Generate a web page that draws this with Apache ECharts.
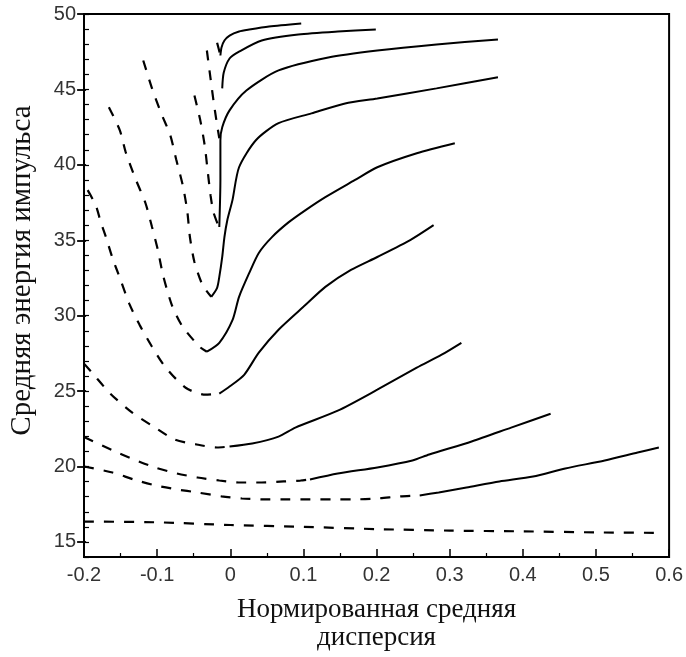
<!DOCTYPE html>
<html><head><meta charset="utf-8">
<script src="https://cdn.jsdelivr.net/npm/echarts@6/dist/echarts.min.js"></script>
<style>html,body{margin:0;padding:0;background:#fff}#c{width:686px;height:657px}</style>
</head><body><div id="c"></div>
<script>
// Axis ticks
const yMajorTicks = [15, 20, 25, 30, 35, 40, 45, 50];

// Curves: dashed (left) part and solid (right) part, [x, y]
const k1Dash = [[-0.018,48.1],[-0.0135,47.25]];
const k1Solid = [[-0.0135,47.25],[-0.012,47.78],[-0.008,48.24],[-0.001,48.57],[0.012,48.84],[0.026,48.97],[0.053,49.17],[0.097,49.37]];

const k2Dash = [[-0.032,47.58],[-0.027,45.73],[-0.023,44.27],[-0.019,42.95],[-0.015,41.76]];
const k2Solid = [[-0.011,45.07],[-0.009,46.1],[-0.001,47.05],[0.012,47.5],[0.043,48.24],[0.093,48.64],[0.147,48.84],[0.199,48.97]];

const k3Dash = [[-0.049,44.6],[-0.041,42.95],[-0.035,41.3],[-0.031,39.64],[-0.027,37.99],[-0.023,36.86],[-0.016,35.93]];
const k3Solid = [[-0.015,35.88],[-0.0135,38.99],[-0.0135,41.63],[-0.011,42.49],[-0.001,43.61],[0.022,44.93],[0.066,46.26],[0.134,47.12],[0.201,47.58],[0.282,47.98],[0.366,48.31]];

const k4Dash = [[-0.119,46.92],[-0.107,45.07],[-0.095,43.48],[-0.082,41.96],[-0.074,40.37],[-0.065,38.65],[-0.059,37.0],[-0.055,35.15],[-0.049,33.56],[-0.038,32.04],[-0.026,31.25]];
const k4Solid = [[-0.026,31.25],[-0.018,31.85],[-0.015,32.57],[-0.011,33.89],[-0.008,35.21],[-0.004,36.34],[0.003,37.66],[0.012,39.84],[0.035,41.63],[0.066,42.76],[0.111,43.41],[0.157,44.07],[0.201,44.4],[0.282,45.07],[0.366,45.8]];

const k5Dash = [[-0.166,43.82],[-0.151,42.29],[-0.143,40.84],[-0.13,39.12],[-0.116,37.47],[-0.107,35.88],[-0.099,34.35],[-0.092,32.7],[-0.08,30.72],[-0.066,29.33],[-0.042,27.94],[-0.032,27.61]];
const k5Solid = [[-0.032,27.61],[-0.015,28.2],[0.003,29.7],[0.012,31.25],[0.026,32.84],[0.039,34.16],[0.057,35.21],[0.08,36.2],[0.103,37.0],[0.13,37.86],[0.17,38.98],[0.201,39.84],[0.255,40.77],[0.307,41.43]];

const k6Dash = [[-0.195,38.32],[-0.184,37.33],[-0.177,36.2],[-0.17,35.21],[-0.161,33.82],[-0.15,32.37],[-0.138,30.78],[-0.124,29.39],[-0.107,27.94],[-0.089,26.61],[-0.061,25.22],[-0.034,24.76],[-0.015,24.83]];
const k6Solid = [[-0.015,24.83],[-0.001,25.3],[0.019,26.08],[0.039,27.55],[0.066,29.07],[0.103,30.72],[0.13,31.91],[0.165,33.03],[0.201,33.89],[0.246,35.01],[0.278,36.0]];

const k7Dash = [[-0.2,26.82],[-0.189,26.22],[-0.164,24.83],[-0.134,23.57],[-0.105,22.65],[-0.076,21.79],[-0.046,21.46],[-0.018,21.26],[-0.001,21.32]];
const k7Solid = [[-0.001,21.32],[0.03,21.52],[0.066,21.98],[0.089,22.58],[0.147,23.7],[0.201,25.09],[0.255,26.55],[0.289,27.41],[0.316,28.2]];

const k8Dash = [[-0.2,21.95],[-0.161,21.07],[-0.132,20.47],[-0.103,19.94],[-0.073,19.54],[-0.045,19.27],[-0.015,19.07],[0.014,18.94],[0.043,18.94],[0.073,19.01],[0.096,19.07],[0.109,19.14]];
const k8Solid = [[0.109,19.14],[0.147,19.54],[0.201,19.94],[0.249,20.4],[0.272,20.8],[0.33,21.66],[0.384,22.58],[0.438,23.5]];

const k9Dash = [[-0.2,20.0],[-0.161,19.6],[-0.132,19.14],[-0.103,18.75],[-0.073,18.48],[-0.045,18.28],[-0.012,18.02],[0.016,17.88],[0.049,17.82],[0.08,17.82],[0.109,17.82],[0.138,17.82],[0.168,17.82],[0.201,17.88],[0.232,18.02],[0.259,18.08]];
const k9Solid = [[0.259,18.08],[0.285,18.28],[0.323,18.61],[0.368,19.01],[0.414,19.34],[0.458,19.87],[0.512,20.4],[0.557,20.93],[0.586,21.26]];

const k10Dash = [[-0.2,16.35],[-0.1,16.3],[0,16.12],[0.1,16.0],[0.2,15.85],[0.3,15.75],[0.4,15.7],[0.5,15.63],[0.59,15.6]];

const dashedParts = [k1Dash,k2Dash,k3Dash,k4Dash,k5Dash,k6Dash,k7Dash,k8Dash,k9Dash,k10Dash];
const solidParts = [k1Solid,k2Solid,k3Solid,k4Solid,k5Solid,k6Solid,k7Solid,k8Solid,k9Solid];

const series = [];
dashedParts.forEach(d => series.push({type:'line', data:d, showSymbol:false, smooth:0.25, silent:true,
  lineStyle:{color:'#000', width:2.2, type:[10,10]}}));
solidParts.forEach(d => series.push({type:'line', data:d, showSymbol:false, smooth:0.25, silent:true,
  lineStyle:{color:'#000', width:2}}));

const W = 686, GL = 83, GR = 11;
const tickFont = {fontFamily:'Liberation Sans', fontSize:20, color:'#333'};
const chart = echarts.init(document.getElementById('c'), null, {renderer:'canvas'});
chart.setOption({
  animation:false,
  backgroundColor:'#fff',
  grid:{left:GL, right:GR, top:14, bottom:100, show:true, borderColor:'#000', borderWidth:2, backgroundColor:'transparent'},
  xAxis:{type:'value', min:-0.2, max:0.6, interval:0.1,
    axisLine:{show:true, onZero:false, lineStyle:{color:'#000', width:2}},
    axisTick:{show:true, inside:true, length:8, lineStyle:{color:'#000', width:1.5}},
    minorTick:{show:true, splitNumber:2, length:4, lineStyle:{color:'#000', width:1.2}},
    splitLine:{show:false},
    axisLabel:Object.assign({margin:8}, tickFont),
    name:'Нормированная средняя\nдисперсия', nameLocation:'middle', nameGap:39,
    nameTextStyle:{fontFamily:'Liberation Serif', fontSize:27, color:'#111', lineHeight:28}
  },
  yAxis:[{type:'value', min:14, max:50, interval:1, position:'left',
    axisLine:{show:true, onZero:false, lineStyle:{color:'#000', width:2}},
    axisTick:{show:true, inside:true, length:5, lineStyle:{color:'#000', width:1.2}},
    splitLine:{show:false},
    axisLabel:Object.assign({margin:8, customValues:yMajorTicks}, tickFont),
    name:'Средняя энергия импульса', nameLocation:'middle', nameGap:47, nameRotate:90,
    nameTextStyle:{fontFamily:'Liberation Serif', fontSize:29, color:'#111', padding:[0,0,0,30]}
  },{type:'value', min:14, max:50, position:'right', offset:-(W - GL - GR),
    axisLine:{show:false, onZero:false},
    axisTick:{show:true, inside:false, length:9, customValues:yMajorTicks, lineStyle:{color:'#000', width:1.8}},
    axisLabel:{show:false}, splitLine:{show:false}
  }],
  series: series
});
</script></body></html>
